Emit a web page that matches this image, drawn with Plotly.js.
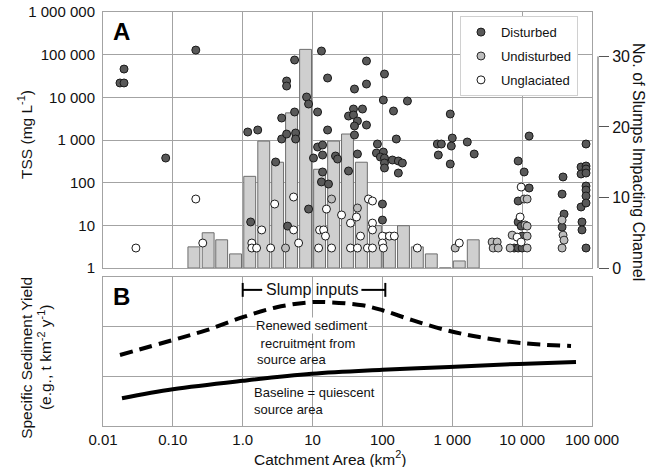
<!DOCTYPE html>
<html>
<head>
<meta charset="utf-8">
<script src="https://cdn.plot.ly/plotly-3.0.1.min.js"></script>
<style>html,body{margin:0;padding:0;background:#fff;}#chart{width:668px;height:467px;}</style>
</head>
<body>
<div id="chart"></div>
<script>
// ---- Data ----
// Histogram of slumps: bin centre catchment areas (km²) and counts
const binArea = [0.2, 0.32, 0.5, 0.79, 1.26, 2.0, 3.16, 5.0, 7.94, 12.6, 20, 31.6, 50, 79.4, 126, 200, 316, 501, 794, 1259, 1995];
const slumpCounts = [3, 5, 4, 2, 13, 18, 15, 22, 31, 14, 18, 19, 15, 6, 5, 6, 3, 2, 0, 1, 4];

const disturbedArea = [0.020,0.0175,0.020,0.213,0.079,
  1.18,1.64,1.30,2.96,3.61,3.61,4.25,4.25,4.25,5.53,5.53,5.72,5.72,4.39,8.21,8.77,8.77,10.3,11.8,11.8,
  13.9,13.9,13.4,16.4,16.4,13.9,13.4,16.9,21.3,22.8,32.7,32.7,38.5,38.5,51.8,43.9,39.8,39.8,39.8,59.1,
  59.1,59.1,43.9,107,103,144,228,158,84.8,82.1,103,93.6,107,107,107,139,169,193,169,100,100,
  936,611,697,1000,968,1640,631,936,2060,
  12590,8770,10690,12590,8770,8770,9680,10000,7690,8770,10000,
  38500,37300,39800,37300,82100,69700,82100,82100,69700,82100,82100,82100,82100,69700,82100,71900,71900,82100];
const disturbedTSS = [46000,21700,21700,128000,378,
  1540,1715,12,305,3275,1055,1380,24150,18400,75000,4530,1460,1055,9.6,10180,6970,24.1,378,4530,685,
  763,445,121800,28400,1715,178,104,93,422,358,188,3650,5320,3850,5320,2790,2130,1310,15670,71000,
  20500,2245,470,35200,8650,4780,8200,1055,805,496,523,399,378,289,221,340,322,289,168,31.6,13.3,
  4065,805,805,1113,723,897,445,274,470,
  1240,322,178,75,37.2,12,9.6,5.6,2.94,2.94,2.94,
  136,54,18.4,9.1,805,233,246,209,160,168,83.5,67.3,48.7,26.9,33.4,12,7.8,2.94];

const undisturbedArea = [4.1,18.7,43.9,1100,3720,4390,3850,4540,10690,11790,11040,11790,7200,11790,6740,11790,37300,38500,37300,39800];
const undisturbedTSS = [2.94,41.4,25.5,2.94,4.07,4.07,2.94,2.94,41.4,41.4,10.2,9.6,5.9,5.6,2.94,2.94,13.3,5.9,2.94,4.5];

const unglaciatedArea = [0.0296,0.213,0.268,1.35,1.35,1.58,1.87,2.51,2.87,5.35,5.35,6.31,12.2,12.6,14.4,15.3,15.8,18.7,26.0,34.9,
  34.9,42.5,43.9,48.5,63.1,72.0,61.1,72.0,72.0,72.0,100,100,103,126,148,316,1260,9680,9360,8480,9680];
const unglaciatedTSS = [2.94,41.4,3.85,3.85,2.94,2.94,7.8,2.94,31.6,46.1,7.8,3.85,2.94,7.8,7.8,5.6,24.1,2.94,17.5,2.94,
  11.3,15.7,2.94,5.6,41.4,37.2,2.94,2.94,11.3,7.8,5.6,3.85,2.94,5.6,5.6,2.94,3.85,79,15.7,5.3,4.07];

// Panel B conceptual curves (relative yield units)
const renewedArea  = [0.0175, 0.1, 0.306, 1.0, 3.06, 9.06, 17.5, 51.8, 100, 268, 820, 2430, 9680, 50100];
const renewedYield = [1.43, 1.73, 1.93, 2.19, 2.39, 2.49, 2.49, 2.43, 2.33, 2.13, 1.93, 1.79, 1.67, 1.61];
const baselineArea  = [0.0187, 0.1, 1.0, 9.7, 100, 906, 9060, 59000];
const baselineYield = [0.56, 0.74, 0.91, 1.05, 1.13, 1.19, 1.25, 1.29];

const slumpRange = [1.0, 110];

// Tick labels
const areaTickVals = [0.01, 0.1, 1, 10, 100, 1000, 10000, 100000];
const areaTickText = ['0.01', '0.10', '1.0', '10', '100', '1 000', '10 000', '100 000'];
const tssTickVals = [1, 10, 100, 1000, 10000, 100000, 1000000];
const tssTickText = ['1', '10', '100', '1 000', '10 000', '100 000', '1 000 000'];
const slumpTickVals = [0, 10, 20, 30];

// ---- Styling ----
const FONT = 'Liberation Sans, Arial, Helvetica, sans-serif';
const GRID = '#a3a3a3';
const TXT = '#111';

const traces = [
  {
    type: 'bar', x: binArea.map(a => Math.log10(a)), y: slumpCounts,
    xaxis: 'x', yaxis: 'y', width: 0.17,
    marker: {color: '#cfcfcf', line: {color: '#6e6e6e', width: 1}},
    showlegend: false, hoverinfo: 'skip'
  },
  {
    type: 'scatter', mode: 'markers', name: 'Disturbed', legendgroup: 'g1',
    x: disturbedArea, y: disturbedTSS, xaxis: 'x3', yaxis: 'y2',
    marker: {size: 8, color: '#595959', line: {color: '#1a1a1a', width: 1}}
  },
  {
    type: 'scatter', mode: 'markers', name: 'Undisturbed', legendgroup: 'g2',
    x: undisturbedArea, y: undisturbedTSS, xaxis: 'x3', yaxis: 'y2',
    marker: {size: 8, color: '#bdbdbd', line: {color: '#2a2a2a', width: 1}}
  },
  {
    type: 'scatter', mode: 'markers', name: 'Unglaciated', legendgroup: 'g3',
    x: unglaciatedArea, y: unglaciatedTSS, xaxis: 'x3', yaxis: 'y2',
    marker: {size: 8, color: '#ffffff', line: {color: '#1a1a1a', width: 1}}
  },
  {
    type: 'scatter', mode: 'lines', x: renewedArea, y: renewedYield,
    xaxis: 'x2', yaxis: 'y3', showlegend: false, hoverinfo: 'skip',
    line: {color: '#000', width: 4, dash: '13px,7px', shape: 'spline'}
  },
  {
    type: 'scatter', mode: 'lines', x: baselineArea, y: baselineYield,
    xaxis: 'x2', yaxis: 'y3', showlegend: false, hoverinfo: 'skip',
    line: {color: '#000', width: 4, shape: 'spline'}
  }
];

const topDomain = [0.3816, 1];
const botDomain = [0, 0.36];
const capY = 2.74;

function note(text, x, y, opts) {
  return Object.assign({text: text, xref: 'paper', yref: 'paper', x: x, y: y,
    xanchor: 'center', yanchor: 'middle', showarrow: false,
    font: {size: 15.5, family: FONT, color: TXT}}, opts || {});
}

const layout = {
  width: 668, height: 467,
  margin: {l: 103, r: 76, t: 12, b: 41},
  paper_bgcolor: '#fff', plot_bgcolor: '#fff',
  font: {family: FONT, size: 15, color: TXT},
  showlegend: true,
  legend: {
    x: 0.730, y: 0.990, xanchor: 'left', yanchor: 'top',
    bgcolor: '#fff', bordercolor: '#d0d0d0', borderwidth: 1,
    font: {family: FONT, size: 13, color: TXT},
    tracegroupgap: 4, traceorder: 'grouped'
  },
  // base subplot: bars (slump counts)
  xaxis: {type: 'linear', range: [-2, 5], domain: [0, 1], anchor: 'y', visible: false, fixedrange: true},
  yaxis: {
    type: 'linear', range: [0, 36.3], domain: topDomain, anchor: 'free', position: 1, side: 'right',
    autoshift: false, shift: 6,
    showgrid: false, zeroline: false, showline: false,
    tickvals: slumpTickVals, ticks: 'outside', ticklen: 10, tickcolor: '#555', tickwidth: 1,
    tickfont: {size: 16, family: FONT, color: TXT}
  },
  // overlay subplot: TSS points
  xaxis3: {
    type: 'log', range: [-2, 5], overlaying: 'x', anchor: 'y2',
    tickvals: areaTickVals, showticklabels: false, ticks: '',
    showgrid: true, gridcolor: GRID, gridwidth: 1,
    showline: true, mirror: true, linecolor: GRID, zeroline: false
  },
  yaxis2: {
    type: 'log', range: [0, 6], overlaying: 'y', anchor: 'x3', side: 'left',
    tickvals: tssTickVals, ticktext: tssTickText, ticks: '', ticklabelstandoff: 4,
    showgrid: true, gridcolor: GRID, gridwidth: 1,
    showline: true, mirror: true, linecolor: GRID, zeroline: false,
    tickfont: {size: 15, family: FONT, color: TXT}
  },
  // panel B
  xaxis2: {
    type: 'log', range: [-2, 5], domain: [0, 1], anchor: 'y3',
    tickvals: areaTickVals, ticktext: areaTickText, ticks: '',
    showgrid: true, gridcolor: GRID, gridwidth: 1,
    showline: true, mirror: true, linecolor: GRID, zeroline: false,
    tickfont: {size: 15, family: FONT, color: TXT}
  },
  yaxis3: {
    type: 'linear', range: [0, 3], domain: botDomain, anchor: 'x2',
    tickvals: [1, 2], showticklabels: false, ticks: '',
    showgrid: true, gridcolor: GRID, gridwidth: 1,
    showline: true, mirror: true, linecolor: GRID, zeroline: false
  },
  shapes: [
    // right axis line (0-30 only)
    {type: 'line', xref: 'paper', yref: 'y', x0: 1 + 6 / 489, x1: 1 + 6 / 489, y0: 0, y1: 30,
     line: {color: '#555', width: 1}},
    // Slump inputs range bar
    {type: 'line', xref: 'x2', yref: 'y3', x0: slumpRange[0], x1: 1.9, y0: capY, y1: capY, line: {color: '#000', width: 2}},
    {type: 'line', xref: 'x2', yref: 'y3', x0: 50, x1: slumpRange[1], y0: capY, y1: capY, line: {color: '#000', width: 2}},
    {type: 'line', xref: 'x2', yref: 'y3', x0: slumpRange[0], x1: slumpRange[0], y0: capY - 0.14, y1: capY + 0.14, line: {color: '#000', width: 2}},
    {type: 'line', xref: 'x2', yref: 'y3', x0: slumpRange[1], x1: slumpRange[1], y0: capY - 0.14, y1: capY + 0.14, line: {color: '#000', width: 2}}
  ],
  annotations: [
    note('<b>A</b>', 0.016, 0.953, {xanchor: 'left', font: {size: 24, family: FONT, color: '#000'}}),
    note('<b>B</b>', 0.016, 0.314, {xanchor: 'left', font: {size: 24, family: FONT, color: '#000'}}),
    note('TSS (mg L<sup>-1</sup>)', -0.1595, 0.703, {textangle: -90}),
    note('Specific Sediment Yield', -0.158, 0.164, {textangle: -90}),
    note('(e.g., t km<sup>-2</sup> y<sup>-1</sup>)', -0.119, 0.166, {textangle: -90}),
    note('No. of Slumps Impacting Channel', 1.094, 0.638, {textangle: 90, font: {size: 16, family: FONT, color: TXT}}),
    note('Catchment Area (km<sup>2</sup>)', 0.464, -0.077),
    {text: 'Slump inputs', xref: 'x2', yref: 'y3', x: 1, y: capY, showarrow: false,
     font: {size: 16, family: FONT, color: TXT}},
    {text: 'Renewed sediment', xref: 'x2', yref: 'y3', x: 0.171, y: 2.03, xanchor: 'left', showarrow: false,
     bgcolor: '#fff', borderpad: 0, font: {size: 13, family: FONT, color: TXT}},
    {text: ' recruitment from', xref: 'x2', yref: 'y3', x: 0.171, y: 1.67, xanchor: 'left', showarrow: false,
     font: {size: 13, family: FONT, color: TXT}},
    {text: 'source area', xref: 'x2', yref: 'y3', x: 0.171, y: 1.33, xanchor: 'left', showarrow: false,
     font: {size: 13, family: FONT, color: TXT}},
    {text: 'Baseline = quiescent', xref: 'x2', yref: 'y3', x: 0.129, y: 0.68, xanchor: 'left', showarrow: false,
     font: {size: 13, family: FONT, color: TXT}},
    {text: 'source area', xref: 'x2', yref: 'y3', x: 0.129, y: 0.34, xanchor: 'left', showarrow: false,
     font: {size: 13, family: FONT, color: TXT}}
  ]
};

Plotly.newPlot('chart', traces, layout, {staticPlot: true, displayModeBar: false});
</script>
</body>
</html>
